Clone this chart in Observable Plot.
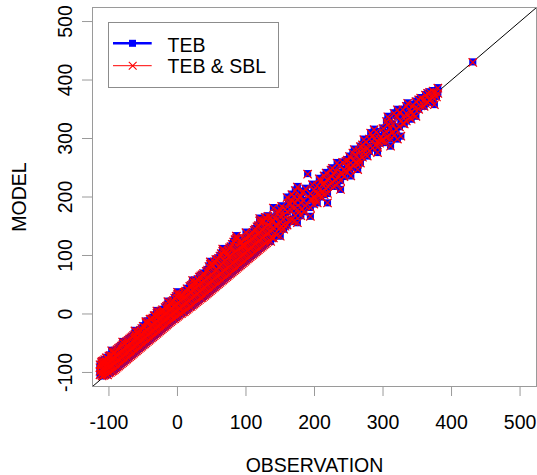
<!DOCTYPE html>
<html>
<head>
<meta charset="utf-8">
<script src="https://cdn.jsdelivr.net/npm/d3@7"></script>
<script src="https://cdn.jsdelivr.net/npm/@observablehq/plot@0.6"></script>
<style>
  html, body { margin: 0; padding: 0; background: #fff; }
  #wrap { position: relative; width: 537px; height: 475px; font-family: "Liberation Sans", Arial, sans-serif; }
  #legend { position: absolute; left: 108px; top: 22px; }
</style>
</head>
<body>
<div id="wrap"></div>
<script>
// Axis ranges and tick values
const xDomain = [-124, 524];
const yDomain = [-124, 524];
const tickValues = [-100, 0, 100, 200, 300, 400, 500];
const seriesNames = ["TEB", "TEB & SBL"];
const seriesColors = ["#0000ff", "#ff0000"];
const axisTitles = ["OBSERVATION", "MODEL"];

// Observation values (one per column of points)
const obsCols = [
  -113,-111,-110,-108,-106,-104,-102,-100,-98,-96,-94,-92,-90,-88,-86,-84,-82,-80,-78,-76,
  -74,-72,-70,-68,-66,-64,-62,-60,-58,-56,-54,-52,-50,-48,-46,-44,-42,-40,-38,-36,
  -34,-32,-30,-28,-26,-24,-22,-20,-18,-16,-14,-12,-10,-8,-6,-4,-2,0,2,4,
  6,8,10,12,14,16,18,20,22,24,26,28,30,32,34,36,38,40,42,44,
  46,48,50,52,54,56,58,60,62,64,66,68,70,72,74,76,78,80,82,84,
  86,88,90,92,94,96,98,100,102,104,106,108,110,112,114,116,118,120,122,124,
  126,128,130,132,
  136,138,140,142,145,148,150,152,155,157,160,162,165,167,170,172,175,178,180,182,
  184,187,190,194,197,199,202,204,207,209,212,214,217,219,222,224,226,228,231,233,
  236,238,241,243,246,248,251,253,256,258,261,263,265,267,270,272,275,277,280,282,
  285,287,290,292,295,297,300,302,305,307,309,311,314,316,319,321,324,326,329,331,
  334,336,339,341,344,346,348,352,355,360,362,365,368,370,373,375,378,380,431
];

// Model values, TEB run (one list per observation column)
const tebCols = [
  [-104,-98,-92,-86],[-103,-95,-88,-82],[-106,-96,-86,-80],[-105,-95,-85,-79],[-104,-94,-84,-78],
  [-102,-92,-82,-74],[-104,-95,-85,-75],[-101,-91,-81,-71],[-100,-90,-80,-70],[-98,-88,-78,-72,-62],
  [-97,-87,-77,-66],[-95,-85,-74,-64],[-93,-83,-73,-62],[-91,-81,-70,-60],[-89,-79,-68,-58],
  [-87,-77,-66,-56],[-85,-75,-64,-54],[-83,-73,-62,-52,-47],[-81,-71,-60,-50],[-79,-69,-58,-48],
  [-77,-67,-56,-46],[-75,-65,-54,-44],[-73,-63,-52,-42],[-71,-61,-50,-40],[-69,-59,-48,-38],
  [-67,-57,-46,-36],[-65,-55,-44,-34,-28],[-63,-53,-42,-36],[-61,-51,-40,-30],[-59,-49,-38,-29],
  [-57,-47,-36,-27],[-55,-45,-34,-24],[-53,-43,-32,-20],[-51,-41,-30,-22],[-49,-39,-28,-14,-12],
  [-47,-37,-26,-14],[-45,-35,-24,-12],[-43,-33,-22,-8],[-41,-31,-20,-8],[-39,-29,-18,-6],
  [-37,-27,-16,-2],[-35,-25,-14,-2],[-33,-23,-12,2,6],[-31,-21,-10,-2],[-29,-19,-8,4],
  [-27,-17,-6,6],[-25,-15,-4,8],[-23,-13,-2,6],[-21,-11,0,12],[-19,-9,2,14],
  [-17,-7,4,16,22],[-15,-5,6,14],[-13,-3,8,20],[-11,-1,10,22],[-9,1,12,24],
  [-8,3,14,28],[-6,5,16,31],[-4,7,18,34,38],[-2,9,20,35],[0,10,22,32],
  [1,12,24,34],[3,14,26,32],[4,16,28,38],[6,18,30,40],[8,20,32,44],
  [10,22,34,42],[12,24,36,48],[13,26,38,50],[15,28,40,52,58],[17,30,42,54],
  [19,32,44,58],[21,34,46,54],[23,36,48,60],[25,38,50,64],[27,40,52,66],
  [28,42,54,68],[30,44,56,70],[32,46,58,68],[34,48,60,74],[36,50,62,76],
  [38,52,64,82],[40,54,66,86,90],[42,56,68,86],[44,58,70,84],[46,60,72,90],
  [48,62,74,94],[50,64,76,94],[52,66,80,96],[54,68,82,100],[56,70,84,104],
  [58,72,88,108,112],[60,74,90,110],[62,76,92,108],[64,78,94,102],[66,80,96,110],
  [68,82,98,114],[70,84,100,116],[72,86,102,120],[74,88,104,124],[76,90,106,128],
  [78,92,108,130,134],[80,94,110,130],[82,96,112,126],[84,98,114,124],[86,100,116,124],
  [88,102,116,118],[90,104,118,128],[92,106,120,130,140],[94,108,122,132],[96,110,124,134],
  [98,112,126,136],[100,114,128,138],[102,116,130,140],[104,118,132,144],[106,120,134,146],
  [108,122,136,150],[110,124,138,152],[112,126,140,160,164],[114,128,142,156],[116,130,144,160],
  [118,132,146,160],[120,134,148,166],[122,136,150,164],[124,138,152,168],
  [124,140,150,166],[130,158],[130,148,160,182],[138,165],[135,150,172],
  [145,175],[133,147,158,167,180],[150,185],[145,162,170],[150,180],
  [152,175,200],[160,190],[160,178,190],[162,195,205],[158,180,202],
  [168,190,212],[156,178,196,218],[175,200],[168,190,202],[180,208],
  [175,194,210],[185,215],[240],[167,182,196,206],[195,222],
  [188,200,213],[196,210],[190,205,220],[205,232],[200,213,228],
  [208,222],[204,225,237],[214,242],[190,206,218,230],[220,232],
  [236,247],[225,250],[218,240],[230,245],[222,259],
  [234,255],[213,228,242],[240,260],[235,247],[244,262],
  [253,264],[246,270],[236,250,268],[255,276],[264,282],
  [258,272],[247,256],[264,280],[258,287],[268,290],
  [276,282,299],[272,295],[270,285],[278,300],[287,310],
  [284,305],[299,316],[290,312],[276,285],[292,300],
  [296,304],[298,318],[293,310],[302,330],[324,338],
  [306,335],[287,299,318],[310,325],[305,344],[316,340],
  [299,338,350],[320,345],[304,330],[326,350],[325,340],
  [330,356],[341,361],[336,350],[333,345],[340,358],
  [352],[338,364],[350,367],[356,370],[355,367],
  [360,375],[362,378],[365,380],[368],[370,382],
  [358,378],[372],[377,387],[431]
];

// Model values, TEB & SBL run (one list per observation column)
const sblCols = [
  [-104,-98,-92,-87],[-103,-95,-88,-83],[-106,-96,-86,-81],[-105,-95,-85,-80],[-104,-94,-84,-78],
  [-102,-92,-82,-75],[-104,-95,-85,-76],[-101,-91,-81,-72],[-100,-90,-80,-71],[-98,-88,-78,-72,-63],
  [-97,-87,-77,-67],[-95,-85,-74,-65],[-93,-83,-73,-63],[-91,-81,-70,-61],[-89,-79,-68,-59],
  [-87,-77,-66,-57],[-85,-75,-64,-55],[-83,-73,-62,-53,-48],[-81,-71,-60,-51],[-79,-69,-58,-49],
  [-77,-67,-56,-47],[-75,-65,-54,-45],[-73,-63,-52,-43],[-71,-61,-50,-41],[-69,-59,-48,-39],
  [-67,-57,-46,-37],[-65,-55,-44,-35,-29],[-63,-53,-42,-37],[-61,-51,-40,-31],[-59,-49,-38,-30],
  [-57,-47,-36,-28],[-55,-45,-34,-25],[-53,-43,-32,-21],[-51,-41,-30,-23],[-49,-39,-28,-15,-13],
  [-47,-37,-26,-15],[-45,-35,-24,-13],[-43,-33,-22,-9],[-41,-31,-20,-9],[-39,-29,-18,-7],
  [-37,-27,-16,-3],[-35,-25,-14,-3],[-33,-23,-12,1,5],[-31,-21,-10,-3],[-29,-19,-8,3],
  [-27,-17,-6,5],[-25,-15,-4,7],[-23,-13,-2,5],[-21,-11,0,11],[-19,-9,2,13],
  [-17,-7,4,15,21],[-15,-5,6,13],[-13,-3,8,19],[-11,-1,10,21],[-9,1,12,23],
  [-8,3,14,27],[-6,5,16,30],[-4,7,18,33,37],[-2,9,20,34],[0,10,22,31],
  [1,12,24,33],[3,14,26,31],[4,16,28,37],[6,18,30,39],[8,20,32,43],
  [10,22,34,41],[12,24,36,47],[13,26,38,49],[15,28,40,51,57],[17,30,42,53],
  [19,32,44,57],[21,34,46,53],[23,36,48,59],[25,38,50,63],[27,40,52,65],
  [28,42,54,67],[30,44,56,69],[32,46,58,67],[34,48,60,73],[36,50,62,75],
  [38,52,64,81],[40,54,66,85,89],[42,56,68,85],[44,58,70,83],[46,60,72,89],
  [48,62,74,93],[50,64,76,93],[52,66,80,95],[54,68,82,99],[56,70,84,103],
  [58,72,88,107,111],[60,74,90,109],[62,76,92,107],[64,78,94,101],[66,80,96,109],
  [68,82,98,113],[70,84,100,115],[72,86,102,119],[74,88,104,123],[76,90,106,127],
  [78,92,108,129,133],[80,94,110,129],[82,96,112,125],[84,98,114,123],[86,100,116,123],
  [88,102,116,117],[90,104,118,127],[92,106,120,129,139],[94,108,122,131],[96,110,124,133],
  [98,112,126,135],[100,114,128,137],[102,116,130,139],[104,118,132,143],[106,120,134,145],
  [108,122,136,149],[110,124,138,151],[112,126,140,159,163],[114,128,142,155],[116,130,144,159],
  [118,132,146,159],[120,134,148,165],[122,136,150,163],[124,138,152,167],
  [124,140,150,165],[130,157],[130,148,159,181],[138,164],[135,150,171],
  [145,174],[133,147,158,167,179],[150,184],[145,162,169],[150,179],
  [152,175,199],[160,189],[160,178,189],[162,194,204],[158,180,201],
  [168,190,211],[156,178,196,217],[175,199],[168,190,201],[180,207],
  [175,194,209],[185,214],[239],[167,182,196,205],[195,221],
  [188,200,212],[196,209],[190,205,219],[205,231],[200,213,227],
  [208,221],[204,225,236],[214,241],[190,206,218,229],[220,231],
  [236,246],[225,249],[218,239],[230,244],[222,258],
  [234,254],[213,228,241],[240,259],[235,246],[244,261],
  [253,263],[246,269],[236,250,267],[255,275],[264,281],
  [258,271],[247,256],[264,279],[258,286],[268,289],
  [276,282,298],[272,294],[270,284],[278,299],[287,309],
  [284,304],[299,315],[290,311],[276,285],[292,299],
  [296,303],[298,317],[293,309],[302,329],[323,337],
  [306,334],[287,299,317],[310,324],[305,343],[316,339],
  [299,337,349],[320,344],[304,329],[326,349],[325,339],
  [330,355],[341,360],[336,349],[333,344],[340,357],
  [351],[338,363],[350,366],[356,369],[355,366],
  [360,374],[362,377],[365,379],[367],[370,381],
  [358,377],[371],[377,386],[430]
];

const tebRows = obsCols.flatMap((o, i) => tebCols[i].map(m => ({obs: o, model: m})));
const sblRows = obsCols.flatMap((o, i) => sblCols[i].map(m => ({obs: o, model: m})));

const FONT = "'Liberation Sans', Arial, Helvetica, sans-serif";
const FS = 19.5;

const chart = Plot.plot({
  width: 537,
  height: 475,
  marginLeft: 92,
  marginRight: 1,
  marginTop: 7,
  marginBottom: 89,
  style: {fontFamily: FONT, fontSize: FS + "px", background: "#fff", color: "#000", overflow: "visible"},
  x: {domain: xDomain, label: null},
  y: {domain: yDomain, label: null},
  marks: [
    Plot.line(xDomain, {x: d => d, y: d => d, stroke: "#000", strokeWidth: 1}),
    Plot.dot(tebRows, {x: "obs", y: "model", symbol: "square", r: 4, fill: seriesColors[0], stroke: "none"}),
    Plot.dot(sblRows, {x: "obs", y: "model", symbol: "times", r: 3.9, stroke: seriesColors[1], strokeWidth: 1.2, fill: "none"}),
    Plot.frame({stroke: "#9a9a9a", strokeWidth: 1}),
    Plot.axisX({ticks: tickValues, tickSize: 10, stroke: "#9a9a9a", tickFormat: () => "", label: null}),
    Plot.axisY({ticks: tickValues, tickSize: 10, stroke: "#9a9a9a", tickFormat: () => "", label: null}),
    Plot.text(tickValues, {x: d => d, text: d => String(d), frameAnchor: "bottom", textAnchor: "middle", lineAnchor: "middle", dy: 36, fontSize: FS, fill: "#000"}),
    Plot.text(tickValues, {y: d => d, text: d => String(d), frameAnchor: "left", textAnchor: "middle", lineAnchor: "middle", dx: -26.5, rotate: -90, fontSize: FS, fill: "#000"}),
    Plot.text([axisTitles[0]], {frameAnchor: "bottom", textAnchor: "middle", lineAnchor: "middle", dy: 79.5, fontSize: FS, fill: "#000"}),
    Plot.text([axisTitles[1]], {frameAnchor: "left", textAnchor: "middle", lineAnchor: "middle", dx: -73.2, rotate: -90, fontSize: FS, fill: "#000"})
  ]
});

const wrap = document.getElementById("wrap");
wrap.appendChild(chart);

// Legend box (inside plotting area, top-left)
const ns = "http://www.w3.org/2000/svg";
const lg = document.createElementNS(ns, "svg");
lg.setAttribute("id", "legend");
lg.setAttribute("width", "172");
lg.setAttribute("height", "67");
lg.innerHTML = `
  <rect x="0.5" y="0.5" width="170" height="65" fill="#fff" stroke="#8c8c8c" stroke-width="1"/>
  <line x1="5" x2="43.7" y1="21.3" y2="21.3" stroke="${seriesColors[0]}" stroke-width="2.6"/>
  <rect x="21" y="17.8" width="7" height="7" fill="${seriesColors[0]}"/>
  <line x1="5" x2="43.7" y1="43.7" y2="43.7" stroke="${seriesColors[1]}" stroke-width="1"/>
  <path d="M20.8,39.8L28.6,47.6M20.8,47.6L28.6,39.8" stroke="${seriesColors[1]}" stroke-width="1.1" fill="none"/>
  <text x="59.5" y="29.6" font-family="${FONT}" font-size="${FS}" fill="#000">${seriesNames[0]}</text>
  <text x="59.5" y="51.3" font-family="${FONT}" font-size="${FS}" fill="#000">${seriesNames[1].replace("&", "&amp;")}</text>
`;
wrap.appendChild(lg);
</script>
</body>
</html>
